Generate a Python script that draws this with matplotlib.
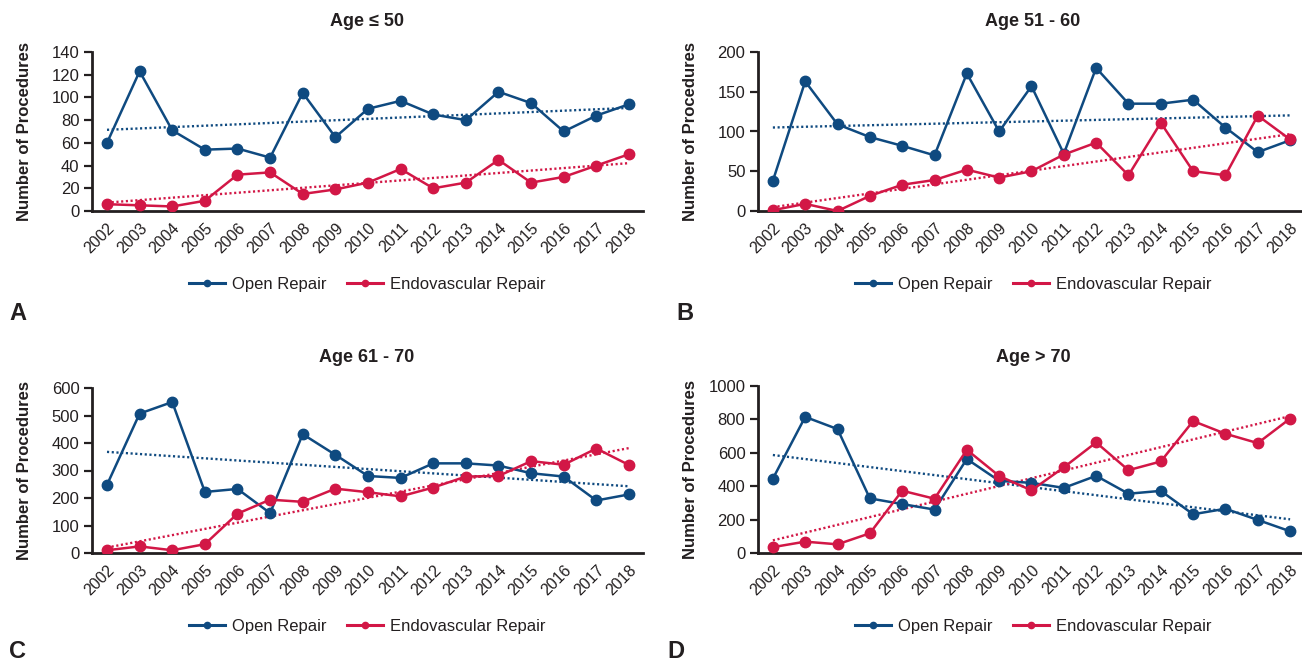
import numpy as np
import matplotlib
matplotlib.use('Agg')
import matplotlib.pyplot as plt
from matplotlib.lines import Line2D

plt.rcParams['font.family'] = ['Liberation Sans', 'DejaVu Sans']

years = list(range(2002, 2019))
titles = ['Age ≤ 50', 'Age 51 - 60', 'Age 61 - 70', 'Age > 70']
letters = ['A', 'B', 'C', 'D']

open_a = [60, 123, 71, 54, 55, 47, 104, 65, 90, 97, 85, 80, 105, 95, 70, 84, 94]
endo_a = [6, 5, 4, 9, 32, 34, 15, 19, 25, 37, 20, 25, 45, 25, 30, 40, 50]
open_b = [38, 163, 109, 93, 82, 70, 173, 100, 157, 72, 180, 135, 135, 140, 105, 74, 89]
endo_b = [1, 9, 0, 19, 33, 39, 52, 42, 50, 71, 86, 45, 111, 50, 45, 120, 90]
open_c = [248, 507, 549, 222, 233, 145, 432, 357, 280, 273, 326, 326, 318, 290, 278, 191, 213]
endo_c = [10, 24, 10, 32, 143, 194, 186, 234, 221, 206, 238, 278, 280, 334, 321, 380, 320]
open_d = [445, 815, 742, 327, 293, 260, 563, 432, 420, 390, 462, 355, 372, 232, 265, 198, 130]
endo_d = [35, 68, 52, 118, 373, 325, 618, 461, 375, 513, 662, 496, 548, 790, 714, 658, 805]

ymax = [140, 200, 600, 1000]
ystep = [20, 50, 100, 200]
series = [(open_a, endo_a), (open_b, endo_b), (open_c, endo_c), (open_d, endo_d)]

BLUE = '#0f4a80'
RED = '#d21746'
INK = '#231f20'

W, H = 1302, 662
fig = plt.figure(figsize=(W / 100, H / 100), dpi=100)

# axes rectangles in pixels: left, top, width, bottom (measured from top)
rects = [(92, 52, 551, 211), (758, 52, 546, 211), (92, 388, 551, 553), (758, 386, 546, 553)]
title_y = [21, 21, 357, 357]
legend_y = [284, 284, 626, 626]
letter_pos = [(18, 313), (685, 313), (18, 652), (676, 652)]

for i in range(4):
    l, t, w, b = rects[i]
    ax = fig.add_axes([l / W, 1 - b / H, w / W, (b - t) / H])
    op, en = series[i]
    x = np.array(years)
    for data, col in ((op, BLUE), (en, RED)):
        ax.plot(x, data, color=col, lw=1.8, marker='o', ms=7.5, zorder=3, solid_joinstyle='round')
        k, c0 = np.polyfit(x, data, 1)
        ax.plot([x[0], x[-1]], [k * x[0] + c0, k * x[-1] + c0], color=col, lw=1.7,
                linestyle=(0, (0.9, 1.1)), zorder=2)
    ax.set_xlim(2002 - 0.46, 2018 + 0.43)
    ax.set_ylim(0, ymax[i])
    ax.set_yticks(np.arange(0, ymax[i] + 1, ystep[i]))
    ax.set_xticks(years)
    ax.set_xticklabels([str(y) for y in years], rotation=45, ha='right', rotation_mode='anchor')
    ax.tick_params(axis='x', length=0, pad=7, labelsize=11.5, labelcolor=INK)
    ax.tick_params(axis='y', length=6, width=1.6, color=INK, pad=3, labelsize=12, labelcolor=INK)
    for s in ('top', 'right'):
        ax.spines[s].set_visible(False)
    for s in ('left', 'bottom'):
        ax.spines[s].set_linewidth(2.0)
        ax.spines[s].set_color(INK)
    ax.set_ylabel('Number of Procedures', fontsize=12, fontweight='bold', color=INK)
    ax.yaxis.set_label_coords(-60 / w, 0.5)
    cx = (l + 275) / W
    fig.text(cx, 1 - title_y[i] / H, titles[i], ha='center', va='center', fontsize=13,
             fontweight='bold', color=INK)
    handles = [Line2D([], [], color=BLUE, lw=2.2, marker='o', ms=4.5),
               Line2D([], [], color=RED, lw=2.2, marker='o', ms=4.5)]
    fig.legend(handles, ['Open Repair', 'Endovascular Repair'], loc='center',
               bbox_to_anchor=(cx, 1 - legend_y[i] / H), ncol=2, frameon=False, fontsize=12,
               handlelength=2.2, handletextpad=0.4, columnspacing=1.2, labelcolor=INK)
    lx, lyy = letter_pos[i]
    fig.text(lx / W, 1 - lyy / H, letters[i], ha='center', va='center', fontsize=17,
             fontweight='bold', color=INK)

fig.savefig('out.png', dpi=100)
